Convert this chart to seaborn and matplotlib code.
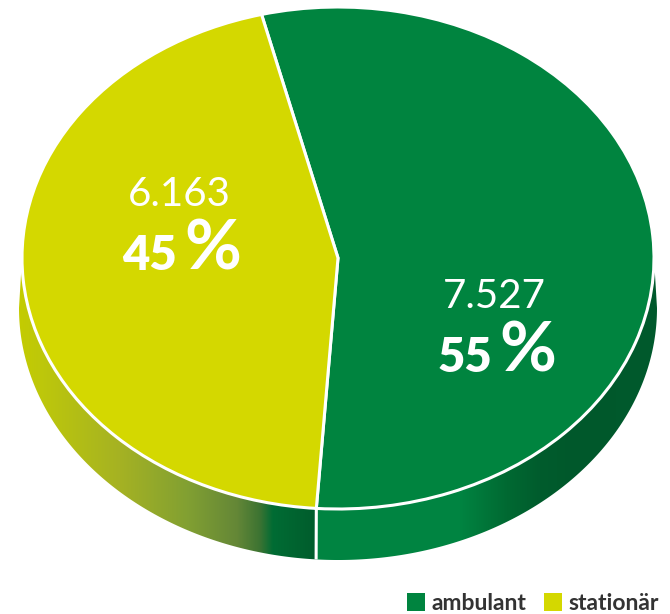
import numpy as np
import matplotlib
matplotlib.use("Agg")
import matplotlib.pyplot as plt
from matplotlib.patches import Polygon, Patch
import seaborn as sns

# Data
categories = ["ambulant", "stationär"]
counts = [7527, 6163]
count_labels = ["7.527", "6.163"]
pct_labels = ["55", "45"]
colors = ["#00843f", "#d4d800"]

sns.set_theme(style="white")
plt.rcParams["font.family"] = ["Lato", "DejaVu Sans"]

W, H = 670, 614
fig = plt.figure(figsize=(W / 100, H / 100), dpi=100)

# Geometry of the tilted disc (pixel space)
cx, cy, rx, ry = 338, 258, 316, 251
depth = 50
rx2, ry2 = rx + 3, ry + 1
start = 104

fracs = np.array(counts, dtype=float) / sum(counts)
split_deg = start - 360 * fracs[0]          # end of the first (clockwise) wedge
split_rad = np.radians(split_deg)

# Background axes in pixel coordinates for the side wall of the disc
bg = fig.add_axes([0, 0, 1, 1])
bg.set_xlim(0, W)
bg.set_ylim(H, 0)
bg.axis("off")

t = np.linspace(np.pi, 2 * np.pi, 400)
top_curve = np.column_stack([cx + rx * np.cos(t), cy - ry * np.sin(t)])
bot_curve = np.column_stack([cx + rx2 * np.cos(t[::-1]), cy + depth - ry2 * np.sin(t[::-1])])
side = Polygon(np.vstack([top_curve, bot_curve]), closed=True, facecolor="none", edgecolor="none")
bg.add_patch(side)

# Horizontal shading of the wall: each slice darkens towards the right
split_x = cx + rx * np.cos(split_rad)
xs = np.arange(W) + 0.5
left_stops = np.array([17, 40, 120, 187, 237, 260, 273, split_x])
left_rgb = np.array([[196, 204, 0], [190, 200, 10], [165, 178, 35], [130, 160, 50],
                     [100, 135, 55], [60, 115, 50], [0, 108, 52], [0, 92, 44]])
right_stops = np.array([split_x, 460, 507, 540, 573, 660])
right_rgb = np.array([[0, 132, 65], [0, 132, 65], [0, 105, 50], [0, 92, 45],
                      [0, 88, 43], [0, 90, 45]])
col = np.zeros((W, 3))
for c in range(3):
    lv = np.interp(xs, left_stops, left_rgb[:, c])
    rv = np.interp(xs, right_stops, right_rgb[:, c])
    col[:, c] = np.where(xs < split_x, lv, rv)
img = np.repeat(col[None, :, :] / 255.0, H, axis=0)
im = bg.imshow(img, extent=(0, W, H, 0), interpolation="bilinear", zorder=1)
im.set_clip_path(side)

# Divider on the wall
sx_top = cx + rx * np.cos(split_rad)
sy_top = cy - ry * np.sin(split_rad)
sx_bot = cx + rx2 * np.cos(split_rad)
sy_bot = cy + depth - ry2 * np.sin(split_rad)
bg.plot([sx_top, sx_bot], [sy_top, sy_bot], color="white", lw=2.2, zorder=2,
        solid_capstyle="butt")

# Top face of the disc
ax = fig.add_axes([(cx - rx) / W, (H - (cy + ry)) / H, 2 * rx / W, 2 * ry / H])
wedges, _ = ax.pie(counts, colors=colors, startangle=start, counterclock=False,
                   radius=1, wedgeprops=dict(edgecolor="white", linewidth=2.2))
for w in wedges:
    w.set_clip_on(False)
ax.set_xlim(-1, 1)
ax.set_ylim(-1, 1)
ax.set_aspect("auto")
ax.axis("off")

# Value labels (drawn with the top face, positioned in pixel space)
label_pos = {"ambulant": (494, 308, 372), "stationär": (179, 206, 270)}
for cat, cnt, pct in zip(categories, count_labels, pct_labels):
    x, y_num, y_pct = label_pos[cat]
    ax.text(x, y_num, cnt, color="white", fontsize=29, fontweight="normal",
            ha="center", va="baseline", zorder=5, transform=bg.transData, clip_on=False)
    ax.text(x - 2, y_pct, pct, color="white", fontsize=34, fontweight="heavy",
            ha="right", va="baseline", zorder=5, transform=bg.transData, clip_on=False)
    ax.text(x + 5, y_pct, "%", color="white", fontsize=50, fontweight="bold",
            ha="left", va="baseline", zorder=5, transform=bg.transData, clip_on=False)

# Legend
handles = [Patch(facecolor=c, edgecolor="none") for c in colors]
leg = fig.legend(handles, categories, loc="lower right", ncol=2,
                 bbox_to_anchor=(659 / W, 0.0), frameon=False,
                 prop=dict(family=["Lato", "DejaVu Sans"], weight="bold", size=16.5),
                 handlelength=0.78, handleheight=0.78, handletextpad=0.28,
                 columnspacing=0.8, borderpad=0, borderaxespad=0)
for txt in leg.get_texts():
    txt.set_color("#333333")

fig.savefig("out.png", dpi=100)
